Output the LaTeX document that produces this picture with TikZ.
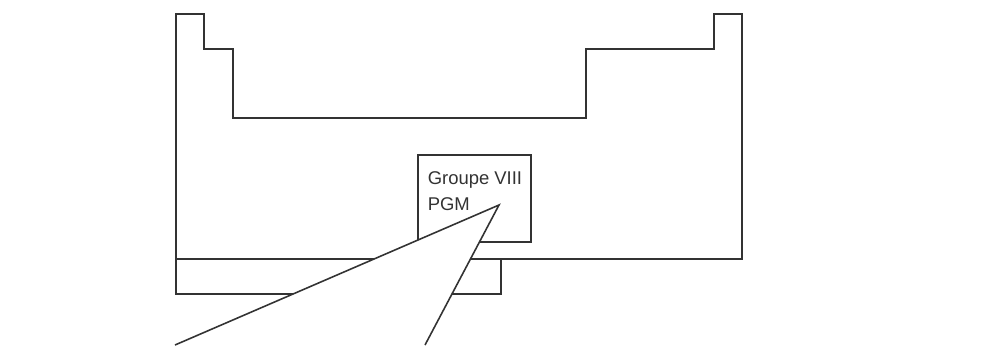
\documentclass[tikz,border=0pt]{standalone}
\usepackage{fontspec}
\setmainfont{Liberation Sans}
\usetikzlibrary{calc}

\begin{document}
\begin{tikzpicture}[x=0.02cm, y=-0.02cm, line width=0.9pt, black!80,
  groupbox/.style={draw, fill=white, inner sep=0, minimum width=2.26cm, minimum height=1.74cm, anchor=north west},
  grouplabel/.style={anchor=north west, inner sep=0, align=left, font=\fontsize{10.5}{14.6}\selectfont}]
\useasboundingbox (0,0) rectangle (997,345);
\draw (176,259) -- (176,14) -- (204,14) -- (204,49) -- (233,49) -- (233,118) -- (586,118) -- (586,49) -- (714,49) -- (714,14) -- (742,14) -- (742,259) -- cycle;
\draw (176,259) rectangle (501,294);
\node[groupbox] (pgm) at (417,154) {};
\node[grouplabel] (pgmtext) at (427,171) {Groupe VIII\\PGM};
\coordinate (tip) at (499,205);
\coordinate (left) at (175,345);
\coordinate (right) at (425,345);
\fill[white] (left) -- (tip) -- (right) -- cycle;
\draw (left) -- (tip) -- (right);
\end{tikzpicture}
\end{document}
